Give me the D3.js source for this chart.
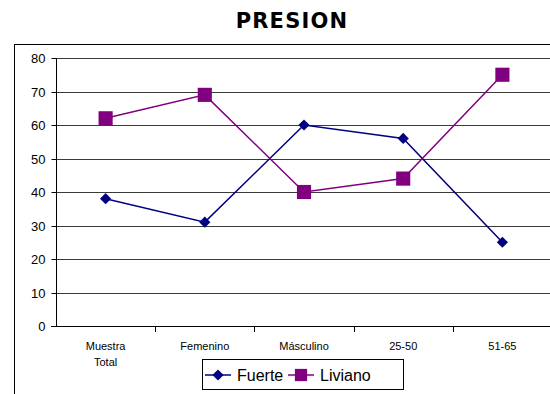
<!DOCTYPE html>
<html>
<head>
<meta charset="utf-8">
<script src="https://cdn.jsdelivr.net/npm/d3@7"></script>
<style>
  html, body { margin: 0; padding: 0; background: #fff; }
  svg { display: block; }
</style>
</head>
<body>
<svg id="chart" width="550" height="394"></svg>
<script>
// Categories and series values
const categories = [["Muestra", "Total"], ["Femenino"], ["Másculino"], ["25-50"], ["51-65"]];
const fuerte = [38, 31, 60, 56, 25];
const liviano = [62, 69, 40, 44, 75];
const yTicks = [0, 10, 20, 30, 40, 50, 60, 70, 80];
const seriesNames = ["Fuerte", "Liviano"];
const seriesColors = ["#000080", "#800080"];

const svg = d3.select("#chart");

// Outer chart frame (runs past the right and bottom edges)
svg.append("rect")
  .attr("x", 14.5).attr("y", 44.5)
  .attr("width", 600).attr("height", 400)
  .attr("fill", "none").attr("stroke", "#000").attr("stroke-width", 1);

// Title
svg.append("text")
  .attr("x", 292).attr("y", 28)
  .attr("text-anchor", "middle")
  .attr("font-family", "'DejaVu Sans', sans-serif")
  .attr("font-weight", "bold")
  .attr("font-size", 21)
  .attr("letter-spacing", 1.2)
  .text("PRESION");

const plotLeft = 56, plotRight = 552, plotTop = 58, plotBottom = 326;

const x = d3.scaleBand()
  .domain(d3.range(categories.length))
  .range([plotLeft, plotRight]);

const y = d3.scaleLinear().domain([0, 80]).range([plotBottom, plotTop]);

// Horizontal gridlines
svg.append("g")
  .selectAll("line")
  .data(yTicks.filter(d => d > 0))
  .join("line")
  .attr("x1", plotLeft).attr("x2", 560)
  .attr("y1", d => Math.round(y(d)) + 0.5)
  .attr("y2", d => Math.round(y(d)) + 0.5)
  .attr("stroke", "#3a3a3a").attr("stroke-width", 1);

// Y axis
const yAxis = d3.axisLeft(y)
  .tickValues(yTicks)
  .tickSize(5)
  .tickPadding(6);
const gy = svg.append("g")
  .attr("transform", `translate(${plotLeft + 0.5},0)`)
  .call(yAxis);
gy.select(".domain").attr("stroke", "#000").attr("d", `M0,${plotTop}V${plotBottom}`);
gy.selectAll(".tick line").attr("stroke", "#000");
gy.selectAll(".tick").attr("transform", d => `translate(0,${Math.round(y(d)) + 0.5})`);
gy.selectAll("text")
  .attr("font-family", "'Liberation Sans', Arial, sans-serif")
  .attr("font-size", 13)
  .attr("fill", "#000");

// X axis baseline and boundary ticks
const gx = svg.append("g");
gx.append("line")
  .attr("x1", plotLeft - 5).attr("x2", 560)
  .attr("y1", plotBottom + 0.5).attr("y2", plotBottom + 0.5)
  .attr("stroke", "#000");
gx.selectAll("line.tk")
  .data(d3.range(1, categories.length))
  .join("line")
  .attr("class", "tk")
  .attr("x1", d => Math.round(x(d)) + 0.5)
  .attr("x2", d => Math.round(x(d)) + 0.5)
  .attr("y1", plotBottom).attr("y2", plotBottom + 6)
  .attr("stroke", "#000");

// Category labels
const labels = gx.selectAll("text.cat")
  .data(categories)
  .join("text")
  .attr("class", "cat")
  .attr("x", (d, i) => x(i) + x.bandwidth() / 2)
  .attr("y", 350)
  .attr("text-anchor", "middle")
  .attr("font-family", "'Liberation Sans', Arial, sans-serif")
  .attr("font-size", 11)
  .attr("fill", "#000");
labels.selectAll("tspan")
  .data((d, i) => d.map(t => ({ t, i })))
  .join("tspan")
  .attr("x", d => x(d.i) + x.bandwidth() / 2)
  .attr("dy", (d, j) => j === 0 ? 0 : 16)
  .text(d => d.t);

const cx = i => x(i) + x.bandwidth() / 2;
const line = d3.line().x((d, i) => cx(i)).y(d => y(d));

const diamond = d3.symbol().type(d3.symbolDiamond2).size(80);
const square = d3.symbol().type(d3.symbolSquare).size(200);

// Fuerte series
svg.append("path")
  .datum(fuerte)
  .attr("d", line)
  .attr("fill", "none")
  .attr("stroke", seriesColors[0])
  .attr("stroke-width", 1.5);
svg.append("g").selectAll("path")
  .data(fuerte)
  .join("path")
  .attr("d", diamond)
  .attr("transform", (d, i) => `translate(${cx(i)},${y(d)})`)
  .attr("fill", seriesColors[0]);

// Liviano series
svg.append("path")
  .datum(liviano)
  .attr("d", line)
  .attr("fill", "none")
  .attr("stroke", seriesColors[1])
  .attr("stroke-width", 1.5);
svg.append("g").selectAll("path")
  .data(liviano)
  .join("path")
  .attr("d", square)
  .attr("transform", (d, i) => `translate(${cx(i)},${y(d)})`)
  .attr("fill", seriesColors[1]);

// Legend
const lg = svg.append("g");
lg.append("rect")
  .attr("x", 202.5).attr("y", 359.5)
  .attr("width", 201).attr("height", 30)
  .attr("fill", "#fff").attr("stroke", "#000");

const legendItems = [
  { name: seriesNames[0], color: seriesColors[0], sym: diamond, x0: 205 },
  { name: seriesNames[1], color: seriesColors[1], sym: d3.symbol().type(d3.symbolSquare).size(150), x0: 288 }
];
legendItems.forEach(it => {
  lg.append("line")
    .attr("x1", it.x0).attr("x2", it.x0 + 26)
    .attr("y1", 375).attr("y2", 375)
    .attr("stroke", it.color).attr("stroke-width", 1.5);
  lg.append("path")
    .attr("d", it.sym)
    .attr("transform", `translate(${it.x0 + 13},375)`)
    .attr("fill", it.color);
  lg.append("text")
    .attr("x", it.x0 + 32).attr("y", 381)
    .attr("font-family", "'Liberation Sans', Arial, sans-serif")
    .attr("font-size", 16)
    .attr("fill", "#000")
    .text(it.name);
});
</script>
</body>
</html>
